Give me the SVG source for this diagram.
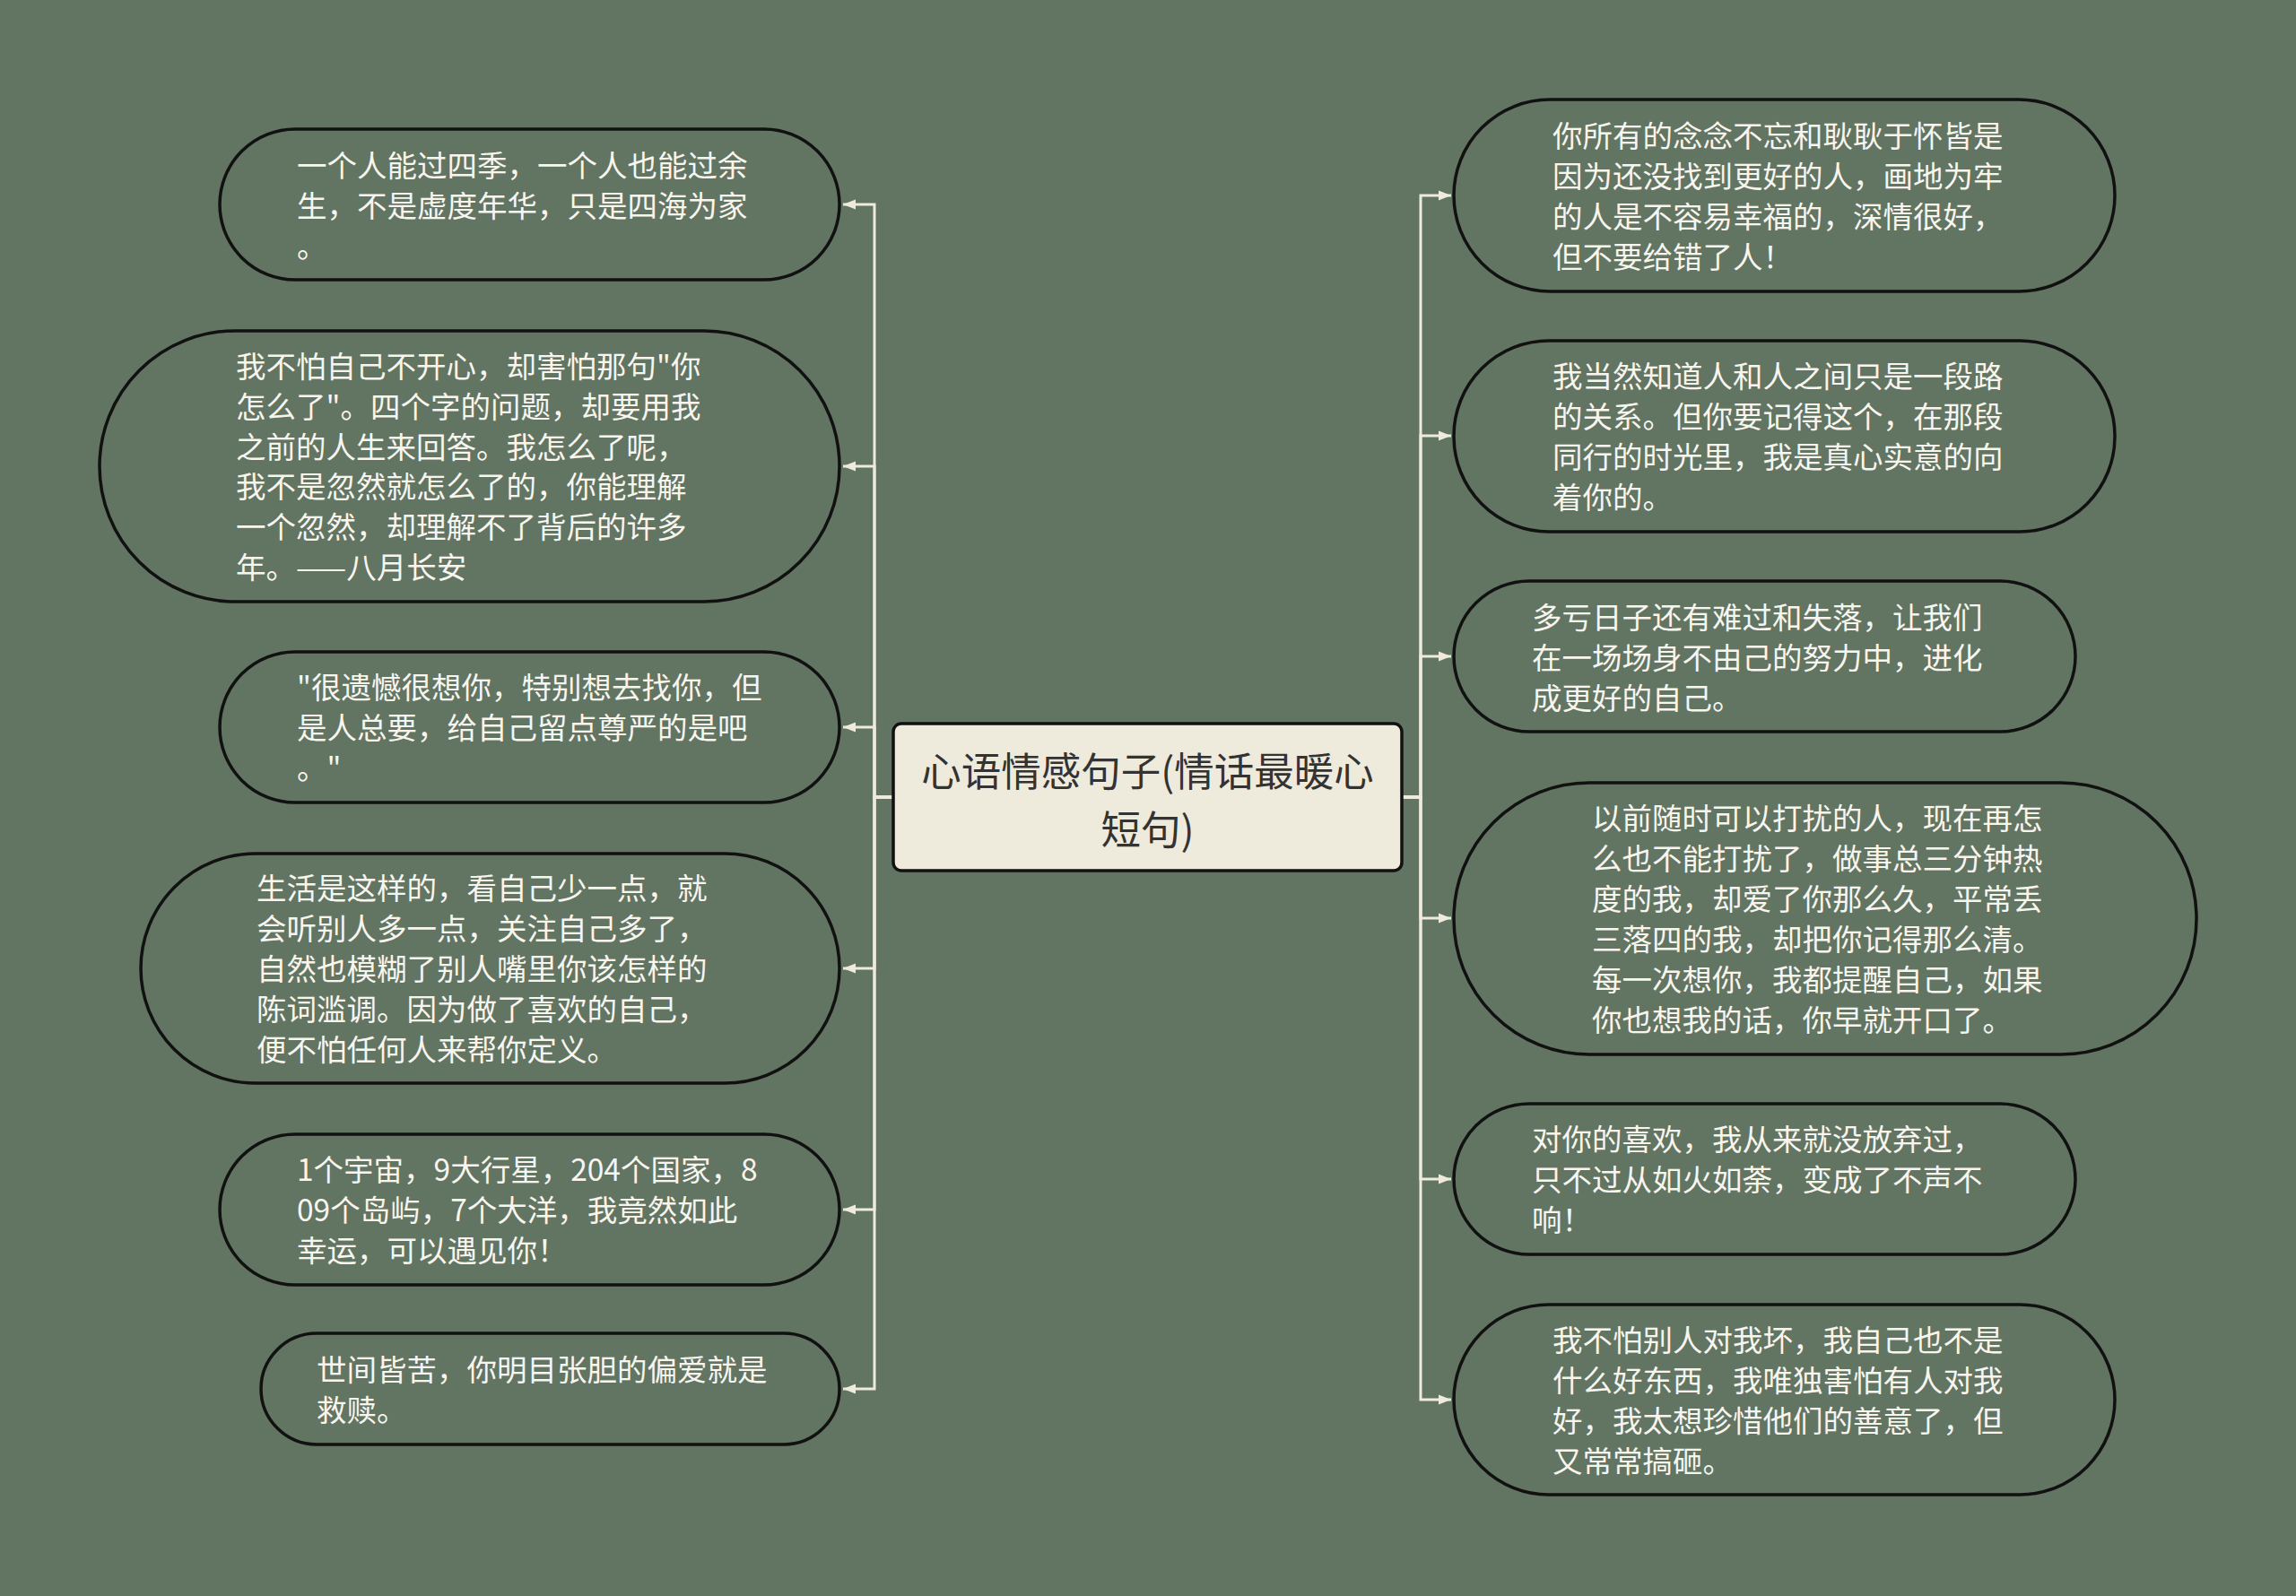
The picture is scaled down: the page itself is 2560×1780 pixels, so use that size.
<svg xmlns="http://www.w3.org/2000/svg" width="2560" height="1780" viewBox="0 0 2560 1780">
<style>
.bg{fill:#627462}
.leaf{fill:#627462;stroke:#111;stroke-width:3.5}
.root{fill:#efebdc;stroke:#111;stroke-width:3.5}
.lt{font-family:"Noto Sans CJK SC","Noto Sans",sans-serif;font-size:33.5px;fill:#f7f5ee;dominant-baseline:central}
.rt{font-family:"Noto Sans CJK SC","Noto Sans",sans-serif;font-size:44.5px;fill:#333;text-anchor:middle;dominant-baseline:central}
.cn{fill:none;stroke:#efebdc;stroke-width:3;marker-end:url(#ah)}
</style>
<defs>
<marker id="ah" markerUnits="userSpaceOnUse" markerWidth="16" markerHeight="14" refX="14" refY="7" orient="auto">
<path d="M0,1.5 L14,7 L0,12.5 Z" fill="#efebdc"/>
</marker>
</defs>
<rect class="bg" x="0" y="0" width="2560" height="1780"/>
<g id="connectors">
<path class="cn" d="M996,889 H975 V228 H940"/>
<path class="cn" d="M996,889 H975 V520 H940"/>
<path class="cn" d="M996,889 H975 V811 H940"/>
<path class="cn" d="M996,889 H975 V1080 H940"/>
<path class="cn" d="M996,889 H975 V1349 H940"/>
<path class="cn" d="M996,889 H975 V1549 H940"/>
<path class="cn" d="M1563,889 H1584 V218 H1618"/>
<path class="cn" d="M1563,889 H1584 V486 H1618"/>
<path class="cn" d="M1563,889 H1584 V732 H1618"/>
<path class="cn" d="M1563,889 H1584 V1024 H1618"/>
<path class="cn" d="M1563,889 H1584 V1315 H1618"/>
<path class="cn" d="M1563,889 H1584 V1561 H1618"/>
</g>
<g id="root">
<rect class="root" x="996" y="807" width="567" height="164" rx="9"/>
<text class="rt" x="1279.5" y="857">心语情感句子(情话最暖心</text>
<text class="rt" x="1279.5" y="922">短句)</text>
</g>
<g id="L1">
<rect class="leaf" x="245" y="144" width="691" height="168" rx="84"/>
<text class="lt" x="331" y="182">一个人能过四季，一个人也能过余</text>
<text class="lt" x="331" y="227">生，不是虚度年华，只是四海为家</text>
<text class="lt" x="331" y="272">。</text>
</g>
<g id="L2">
<rect class="leaf" x="111" y="369" width="825" height="302" rx="151"/>
<text class="lt" x="263" y="406">我不怕自己不开心，却害怕那句"你</text>
<text class="lt" x="263" y="451">怎么了"。四个字的问题，却要用我</text>
<text class="lt" x="263" y="496">之前的人生来回答。我怎么了呢，</text>
<text class="lt" x="263" y="540">我不是忽然就怎么了的，你能理解</text>
<text class="lt" x="263" y="585">一个忽然，却理解不了背后的许多</text>
<text class="lt" x="263" y="630">年。——八月长安</text>
</g>
<g id="L3">
<rect class="leaf" x="245" y="727" width="691" height="168" rx="84"/>
<text class="lt" x="331" y="764">"很遗憾很想你，特别想去找你，但</text>
<text class="lt" x="331" y="809">是人总要，给自己留点尊严的是吧</text>
<text class="lt" x="331" y="854">。"</text>
</g>
<g id="L4">
<rect class="leaf" x="157" y="952" width="779" height="256" rx="128"/>
<text class="lt" x="286" y="988">生活是这样的，看自己少一点，就</text>
<text class="lt" x="286" y="1033">会听别人多一点，关注自己多了，</text>
<text class="lt" x="286" y="1078">自然也模糊了别人嘴里你该怎样的</text>
<text class="lt" x="286" y="1123">陈词滥调。因为做了喜欢的自己，</text>
<text class="lt" x="286" y="1168">便不怕任何人来帮你定义。</text>
</g>
<g id="L5">
<rect class="leaf" x="245" y="1265" width="691" height="168" rx="84"/>
<text class="lt" x="331" y="1302">1个宇宙，9大行星，204个国家，8</text>
<text class="lt" x="331" y="1347">09个岛屿，7个大洋，我竟然如此</text>
<text class="lt" x="331" y="1392">幸运，可以遇见你！</text>
</g>
<g id="L6">
<rect class="leaf" x="291" y="1487" width="645" height="124" rx="62"/>
<text class="lt" x="353" y="1525">世间皆苦，你明目张胆的偏爱就是</text>
<text class="lt" x="353" y="1570">救赎。</text>
</g>
<g id="R1">
<rect class="leaf" x="1621" y="111" width="737" height="214" rx="107"/>
<text class="lt" x="1731" y="149">你所有的念念不忘和耿耿于怀皆是</text>
<text class="lt" x="1731" y="194">因为还没找到更好的人，画地为牢</text>
<text class="lt" x="1731" y="239">的人是不容易幸福的，深情很好，</text>
<text class="lt" x="1731" y="284">但不要给错了人！</text>
</g>
<g id="R2">
<rect class="leaf" x="1621" y="380" width="737" height="213" rx="106"/>
<text class="lt" x="1731" y="417">我当然知道人和人之间只是一段路</text>
<text class="lt" x="1731" y="462">的关系。但你要记得这个，在那段</text>
<text class="lt" x="1731" y="507">同行的时光里，我是真心实意的向</text>
<text class="lt" x="1731" y="552">着你的。</text>
</g>
<g id="R3">
<rect class="leaf" x="1621" y="648" width="693" height="168" rx="84"/>
<text class="lt" x="1708" y="686">多亏日子还有难过和失落，让我们</text>
<text class="lt" x="1708" y="731">在一场场身不由己的努力中，进化</text>
<text class="lt" x="1708" y="776">成更好的自己。</text>
</g>
<g id="R4">
<rect class="leaf" x="1621" y="873" width="828" height="303" rx="151"/>
<text class="lt" x="1775" y="910">以前随时可以打扰的人，现在再怎</text>
<text class="lt" x="1775" y="955">么也不能打扰了，做事总三分钟热</text>
<text class="lt" x="1775" y="1000">度的我，却爱了你那么久，平常丢</text>
<text class="lt" x="1775" y="1045">三落四的我，却把你记得那么清。</text>
<text class="lt" x="1775" y="1090">每一次想你，我都提醒自己，如果</text>
<text class="lt" x="1775" y="1135">你也想我的话，你早就开口了。</text>
</g>
<g id="R5">
<rect class="leaf" x="1621" y="1231" width="693" height="168" rx="84"/>
<text class="lt" x="1708" y="1268">对你的喜欢，我从来就没放弃过，</text>
<text class="lt" x="1708" y="1313">只不过从如火如荼，变成了不声不</text>
<text class="lt" x="1708" y="1358">响！</text>
</g>
<g id="R6">
<rect class="leaf" x="1621" y="1455" width="737" height="212" rx="106"/>
<text class="lt" x="1731" y="1492">我不怕别人对我坏，我自己也不是</text>
<text class="lt" x="1731" y="1537">什么好东西，我唯独害怕有人对我</text>
<text class="lt" x="1731" y="1582">好，我太想珍惜他们的善意了，但</text>
<text class="lt" x="1731" y="1627">又常常搞砸。</text>
</g>
</svg>
